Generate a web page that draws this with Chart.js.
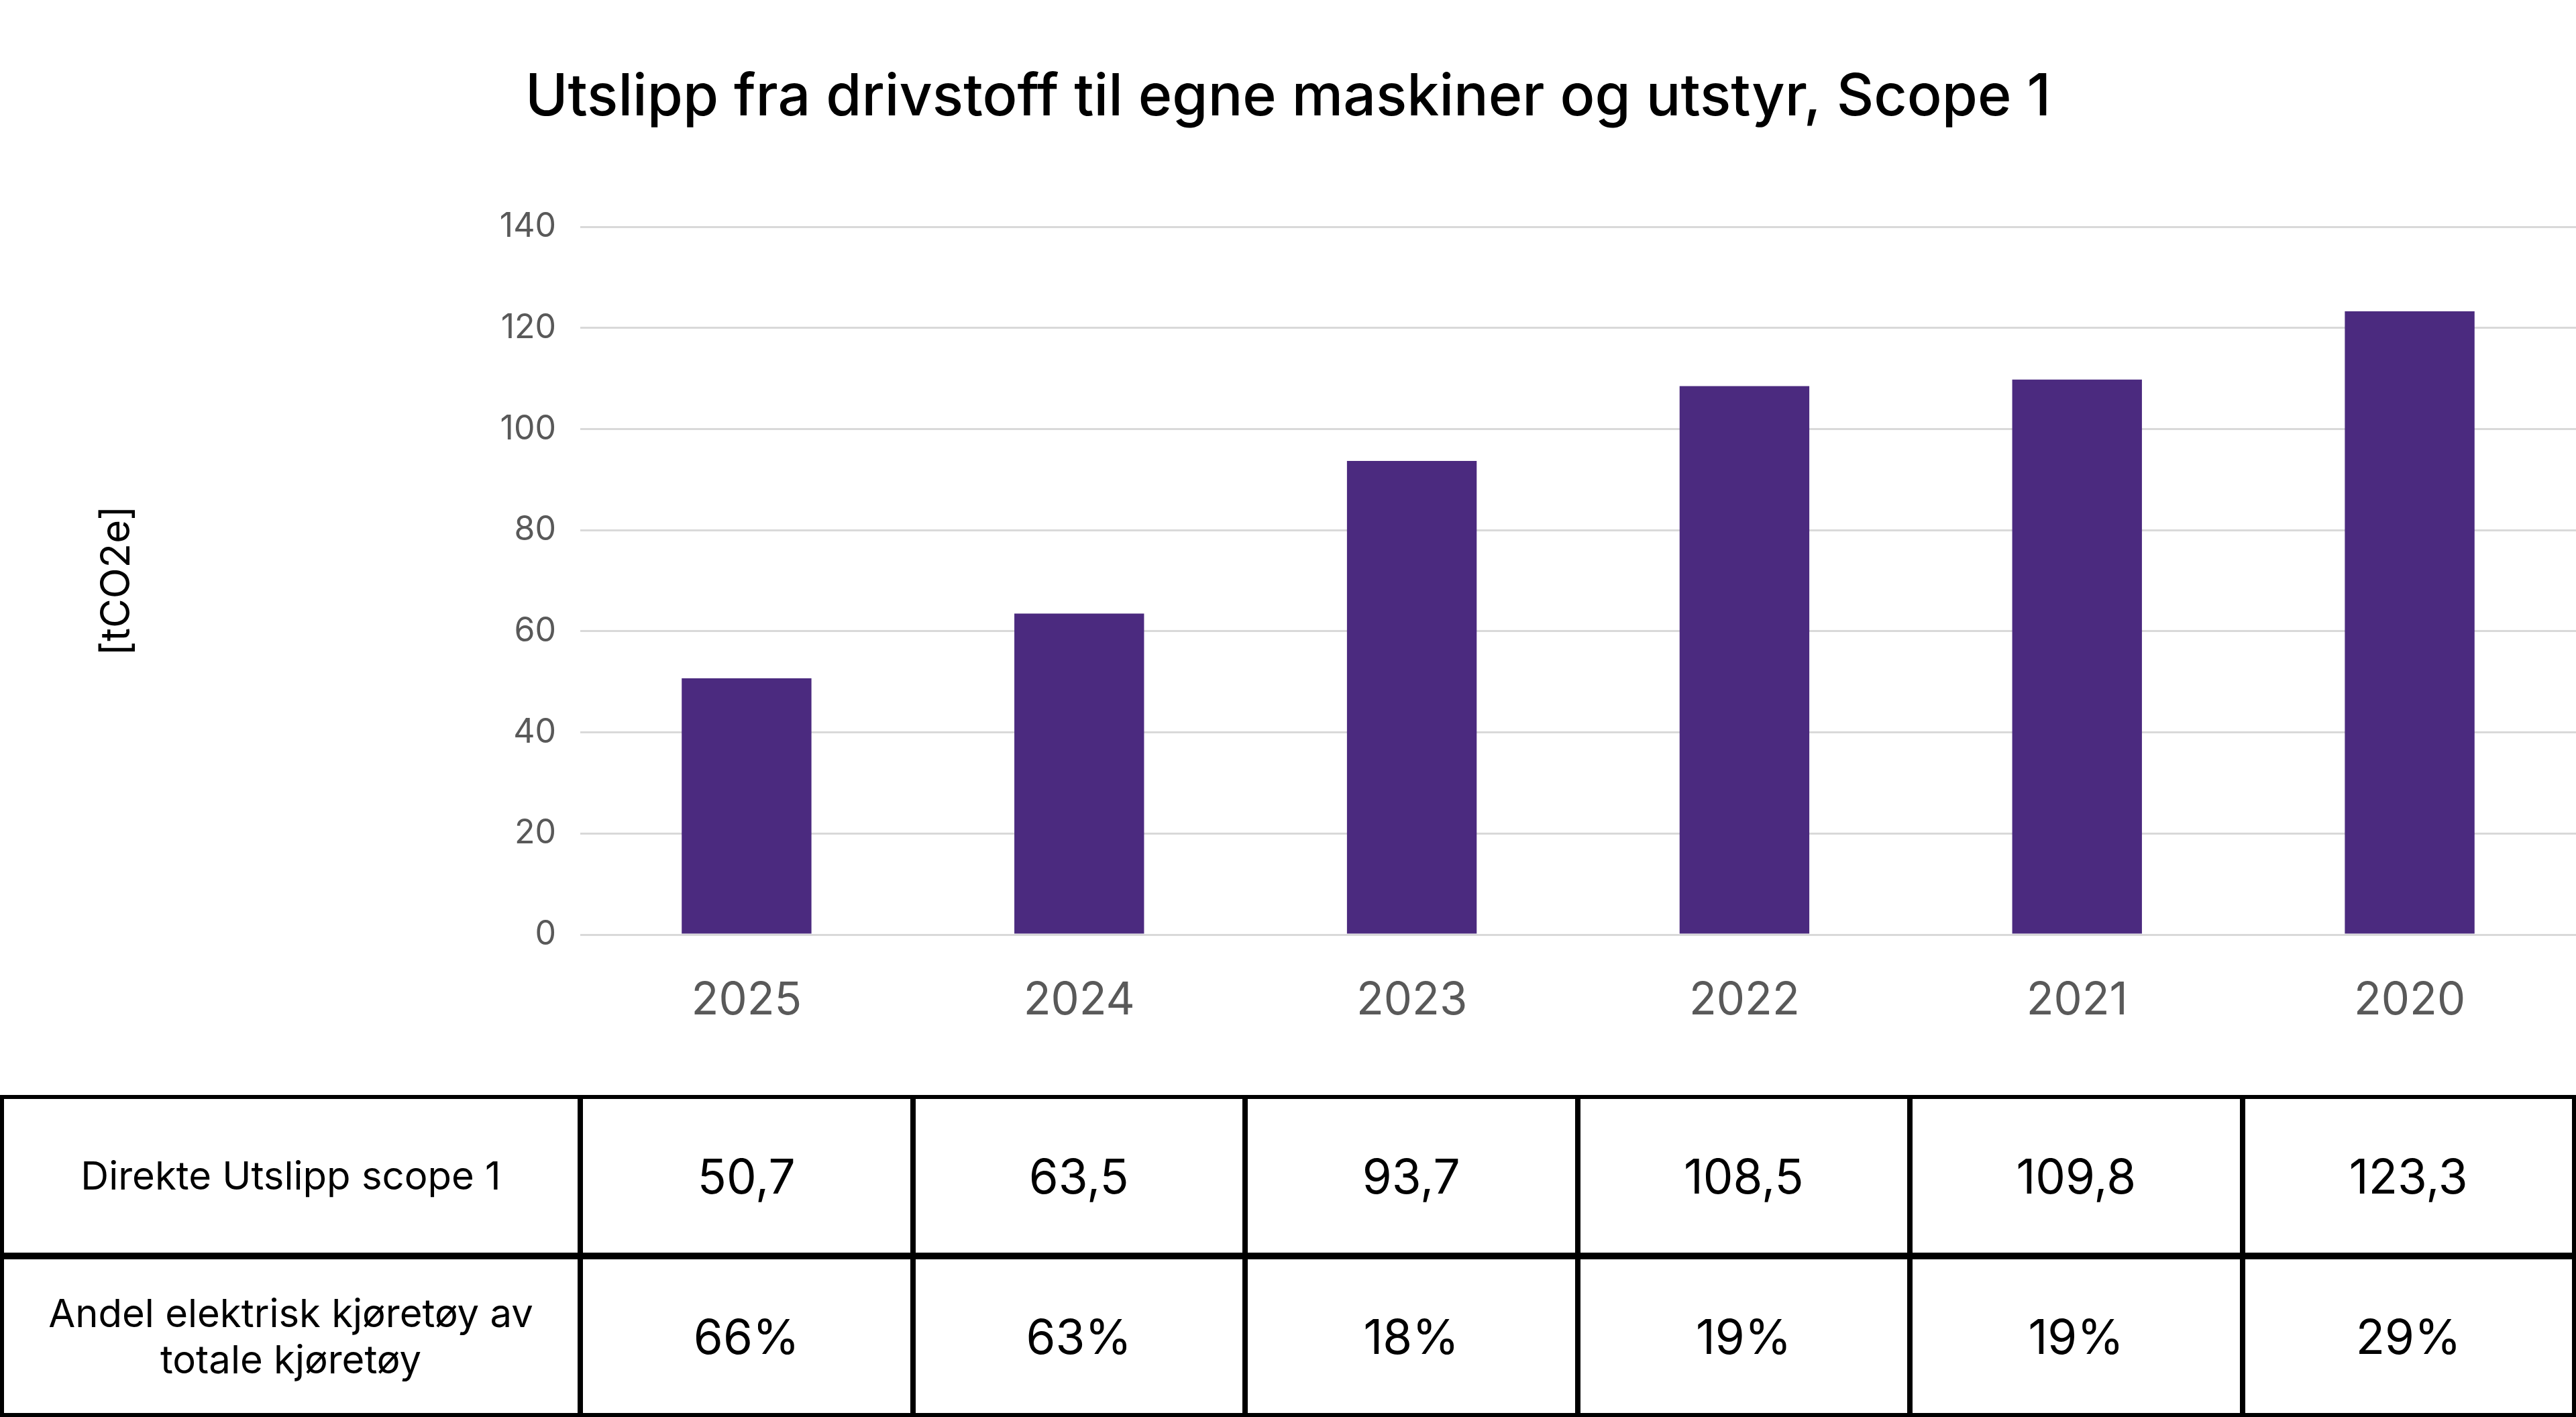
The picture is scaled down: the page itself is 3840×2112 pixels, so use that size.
<!DOCTYPE html>
<html>
<head>
<meta charset="utf-8">
<script src="https://cdn.jsdelivr.net/npm/chart.js@4.4.1/dist/chart.umd.min.js"></script>
<style>
html,body{margin:0;padding:0;background:#fff;width:3840px;height:2112px;overflow:hidden;font-family:Inter,"Noto Sans",sans-serif;}
#wrap{position:absolute;left:0;top:0;width:3840px;height:1600px;}
#tbl{position:absolute;left:0;top:1632px;width:3840px;height:480px;box-sizing:border-box;padding:6px;background:#000;
display:grid;grid-template-columns:855px repeat(6,1fr);grid-template-rows:1fr 1fr;column-gap:8px;row-gap:10px;}
#tbl div{background:#fff;display:flex;align-items:center;justify-content:center;text-align:center;color:#000;white-space:pre-line;}
#tbl .lab{font-size:58px;line-height:69px;}
#tbl .val{font-size:71px;}
</style>
</head>
<body>
<div id="wrap"><canvas id="chart" width="3840" height="1600"></canvas></div>
<div id="tbl"></div>
<script>
// data
const years=["2025","2024","2023","2022","2021","2020"];
const emissions=[50.7,63.5,93.7,108.5,109.8,123.3];
const evShare=[66,63,18,19,19,29];
const rowLabels=["Direkte Utslipp scope 1","Andel elektrisk kjøretøy av\ntotale kjøretøy"];
const titleText="Utslipp fra drivstoff til egne maskiner og utstyr, Scope 1";
const yTitle="[tCO2e]";

Chart.defaults.font.family="Inter";

/* chart */
let chart=new Chart(document.getElementById("chart"),{
type:"bar",
data:{labels:years,datasets:[{data:emissions,backgroundColor:"#4b2a7f",barPercentage:0.39,categoryPercentage:1}]},
options:{
responsive:false,animation:false,devicePixelRatio:1,
layout:{padding:0},
plugins:{
legend:{display:false},tooltip:{enabled:false},
title:{display:true,text:titleText,color:"#000",font:{size:86,weight:"500",lineHeight:1.2},padding:{top:95,bottom:140}}
},
scales:{
x:{
grid:{display:false},border:{display:false},
ticks:{color:"#595959",font:{size:67},padding:51},
afterFit:s=>{s.height=207;}
},
y:{
min:0,max:140,
ticks:{stepSize:20,color:"#595959",font:{size:50},padding:36},
grid:{color:"#d9d9d9",lineWidth:3,drawTicks:false},
border:{display:false},
title:{display:true,text:yTitle,color:"#000",font:{size:60},padding:{top:139,bottom:0}},
afterFit:s=>{s.width=865;}
}
}
}
});

/* tabell */
let tbl=document.getElementById("tbl"),html="";
html+=`<div class="lab">${rowLabels[0]}</div>`;
emissions.forEach(v=>{ html+=`<div class="val">${v.toFixed(1).replace(".",",")}</div>`; });
html+=`<div class="lab">${rowLabels[1]}</div>`;
evShare.forEach(v=>{ html+=`<div class="val">${v}%</div>`; });
tbl.innerHTML=html;
</script>
</body>
</html>
